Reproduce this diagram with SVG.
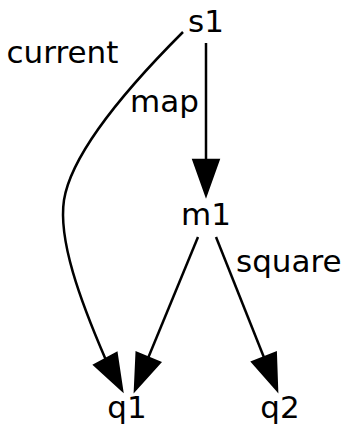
<svg xmlns="http://www.w3.org/2000/svg" width="346" height="424" viewBox="0 0 346 424">
<style>
text{font-family:"DejaVu Sans",sans-serif;font-size:31px;fill:#000}
.e{fill:none;stroke:#000;stroke-width:2.5}
.h{fill:#000;stroke:#000;stroke-width:2.5}
</style>
<rect width="346" height="424" fill="#fff"/>
<g id="s1"><text x="206" y="32" text-anchor="middle">s1</text></g>
<g id="m1"><text x="206" y="225" text-anchor="middle">m1</text></g>
<g id="q1"><text x="127" y="418" text-anchor="middle">q1</text></g>
<g id="q2"><text x="280" y="418" text-anchor="middle">q2</text></g>
<g id="edges">
<path class="e" d="M183,32 C135,80 72,150 64,200 C58,240 80,300 105.5,359"/>
<polygon class="h" points="122,390 94.5,364.9 116.5,353.1"/>
<text x="6.5" y="63">current</text>
<path class="e" d="M206,43 L206,160"/>
<polygon class="h" points="206,195 193.5,160 218.5,160"/>
<text x="130" y="112">map</text>
<path class="e" d="M198,237 L148.3,357.6"/>
<polygon class="h" points="135,390 136.7,352.8 159.9,362.4"/>
<path class="e" d="M216,237 L264,357.5"/>
<polygon class="h" points="277,390 252.4,362.1 275.7,352.9"/>
<text x="236" y="272">square</text>
</g>
</svg>
